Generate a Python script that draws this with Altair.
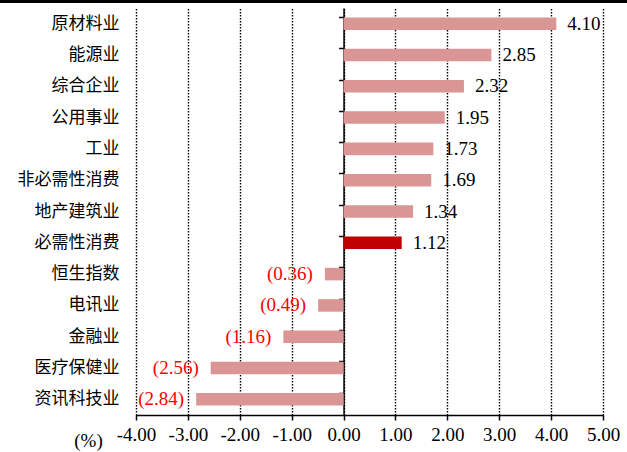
import altair as alt
import pandas as pd

categories = ["原材料业", "能源业", "综合企业", "公用事业", "工业", "非必需性消费",
              "地产建筑业", "必需性消费", "恒生指数", "电讯业", "金融业", "医疗保健业", "资讯科技业"]
values = [4.10, 2.85, 2.32, 1.95, 1.73, 1.69, 1.34, 1.12, -0.36, -0.49, -1.16, -2.56, -2.84]
highlight = "必需性消费"
x_ticks = [-4, -3, -2, -1, 0, 1, 2, 3, 4, 5]

df = pd.DataFrame({"cat": categories, "val": values})
df["label"] = [f"{v:.2f}" if v >= 0 else f"({abs(v):.2f})" for v in values]
df["hl"] = ["yes" if c == highlight else "no" for c in categories]

W, H = 467, 407
LEFT = 136
zero_px = W * 4 / 9

xscale = alt.Scale(domain=[-4, 5], nice=False, zero=False)
yscale = alt.Scale(domain=categories, paddingInner=0.6, paddingOuter=0.3)

base = alt.Chart(df)

bars = base.mark_bar().encode(
    x=alt.X("val:Q", scale=xscale,
            axis=alt.Axis(values=x_ticks, grid=True, gridColor="black",
                          labelExpr="(datum.value < 0 ? '-' : '') + format(abs(datum.value), '.2f')",
                          gridDash=[1.5, 1.5], gridWidth=1.4, domainColor="black",
                          domainWidth=1.5, tickColor="black", tickSize=5, tickWidth=1.5,
                          labelFont="Liberation Serif", labelFontSize=19, labelColor="black",
                          labelPadding=5, labelOverlap=False, labelFlush=False,
                          title="(%)", titleFont="Liberation Serif", titleFontSize=19,
                          titleFontWeight="normal", titleColor="black",
                          titleAnchor="start", titleAlign="center", titleX=-48, titleY=25,
                          titleBaseline="middle")),
    y=alt.Y("cat:N", scale=yscale, sort=categories,
            axis=alt.Axis(title=None, offset=-zero_px, bandPosition=0,
                          domainColor="black", domainWidth=1.5, tickColor="black",
                          tickSize=5, tickWidth=1.5, labelPadding=zero_px + 17 - 5,
                          labelFont="Noto Sans CJK SC", labelFontSize=17,
                          labelColor="black", grid=False)),
    color=alt.Color("hl:N", scale=alt.Scale(domain=["no", "yes"], range=["#D99694", "#C00000"]),
                    legend=None),
)

pos = base.transform_filter("datum.val >= 0").mark_text(
    align="left", baseline="middle", dx=11, font="Liberation Serif", fontSize=19, color="black"
).encode(x=alt.X("val:Q", scale=xscale), y=alt.Y("cat:N", scale=yscale, sort=categories),
         text="label:N")

neg = base.transform_filter("datum.val < 0").mark_text(
    align="right", baseline="middle", dx=-12, font="Liberation Serif", fontSize=19, color="#FF0000"
).encode(x=alt.X("val:Q", scale=xscale), y=alt.Y("cat:N", scale=yscale, sort=categories),
         text="label:N")

top_line = alt.Chart(pd.DataFrame({"a": [0]})).mark_rule(
    color="black", strokeWidth=3, clip=False
).encode(x=alt.value(-LEFT), x2=alt.value(627 - LEFT), y=alt.value(-6.5))

chart = alt.layer(bars, pos, neg, top_line).properties(
    width=W, height=H,
    padding={"left": LEFT, "top": 8, "right": 627 - LEFT - W, "bottom": 37},
    autosize=alt.AutoSizeParams(type="none"),
    background="white",
).configure_view(stroke=None)

chart.save("out.html", embed_options={"renderer": "svg", "actions": False})
